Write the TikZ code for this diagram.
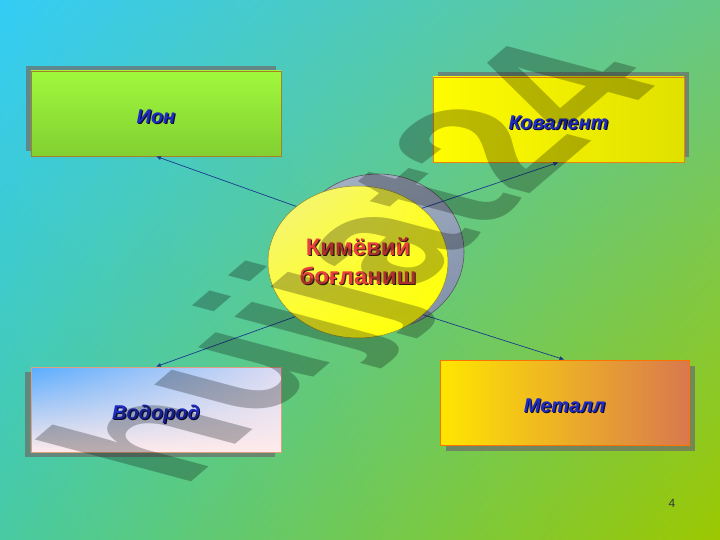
\documentclass[tikz,border=0pt]{standalone}
\usepackage{fontspec}
\setmainfont{Liberation Sans}
\usetikzlibrary{shapes.geometric, shadows, shadings, arrows.meta}

\definecolor{bgtl}{HTML}{34CCF6}
\definecolor{bgtr}{HTML}{66C886}
\definecolor{bgbl}{HTML}{48CAA2}
\definecolor{bgbr}{HTML}{9CC800}
\definecolor{lblue}{HTML}{1E2CC2}
\definecolor{lshadow}{HTML}{0A0A3C}
\definecolor{titlered}{HTML}{E8403C}
\definecolor{titleshadow}{HTML}{3A2010}
\definecolor{linkblue}{HTML}{1A3A8C}
\definecolor{iontop}{HTML}{A0F83C}
\definecolor{ionbot}{HTML}{82D032}
\definecolor{metleft}{HTML}{FFE600}
\definecolor{metright}{HTML}{D9784E}
\definecolor{ringa}{HTML}{A4B0C4}
\definecolor{ringb}{HTML}{7C8CA6}

\newcommand{\shtext}[3]{{\color{#2}\rlap{\kern1.2bp\raisebox{-1.2bp}{#3}}}{\color{#1}#3}}

\begin{document}
\begin{tikzpicture}[x=1bp, y=-1bp,
  box/.style={draw, line width=0.7pt, minimum width=250bp, minimum height=85bp, inner sep=0pt,
    text height=20bp, text depth=0bp, font=\fontsize{20}{24}\selectfont\bfseries\itshape},
  link/.style={draw=linkblue, line width=0.7pt, -{Latex[length=5bp,width=4bp]}},
  wmark/.style={font=\fontsize{100}{100}\selectfont\bfseries, text=black, text opacity=0.26,
    inner sep=0pt, anchor=base west, transform shape}]

% background
\shade[upper left=bgtl, upper right=bgtr, lower left=bgbl, lower right=bgbr] (0,0) rectangle (720,540);
\useasboundingbox (0,0) rectangle (720,540);

% centre
\node[ellipse, draw=gray!70!black, line width=0.6pt, minimum width=172bp, minimum height=156bp,
  upper left=ringa, upper right=ringa!80!ringb, lower left=ringa!70!ringb, lower right=ringb] (ring) at (378,252) {};

% the four kinds
\node[box, draw=brown!60!olive, top color=iontop, bottom color=ionbot,
  drop shadow={shadow xshift=-5bp, shadow yshift=5bp, fill=gray!85!black, opacity=0.7}] (ion) at (156,113.5) {\shtext{lblue}{lshadow}{Ион}};
\node[box, draw=orange!80!brown, minimum width=251bp, left color=yellow!98!orange, right color=yellow!88!black,
  drop shadow={shadow xshift=5bp, shadow yshift=5bp, fill=gray!85!black, opacity=0.7}] (koval) at (558.5,119.5) {\shtext{lblue}{lshadow}{Ковалент}};
\node[box, draw=brown!50!pink, upper left=blue!50!cyan!65!white, upper right=blue!10!white!90!gray,
  lower left=red!8!white, lower right=red!8!white,
  drop shadow={shadow xshift=-6bp, shadow yshift=-5bp, fill=gray!85!black, opacity=0.7}] (vodorod) at (156,409.5) {\shtext{lblue}{lshadow}{Водород}};
\node[box, draw=orange!90!red, minimum width=249bp, left color=metleft, right color=metright,
  drop shadow={shadow xshift=6bp, shadow yshift=-6bp, fill=gray!85!black, opacity=0.7}] (metall) at (564.5,402.5) {\shtext{lblue}{lshadow}{Металл}};

% chemical bond
\node[ellipse, draw=olive!70!gray, line width=0.5pt, minimum width=180bp, minimum height=152bp, inner sep=0pt,
  upper left=yellow!35!white!90!olive, upper right=yellow!85!white, lower left=yellow!85!white, lower right=yellow,
  align=center, font=\fontsize{24}{29}\selectfont\bfseries] (bond) at (358,262)
  {\shtext{titlered}{titleshadow}{Кимёвий}\\\shtext{titlered}{titleshadow}{боғланиш}};

\draw[link] (bond.138) -- (ion.south);
\draw[link] (bond.40) -- (koval.south);
\draw[link] (bond.221) -- (vodorod.north);
\draw[link] (bond.321) -- (metall.north);

% watermark
\begin{scope}[cm={1.29,1.10,-2.164,0.58,(182,490)}]
  \node[wmark] (mark) at (0,0) {hujjat24};
\end{scope}

\node[font=\fontsize{12}{14}\selectfont, text=black!80] (page) at (672,503) {4};

\end{tikzpicture}
\end{document}
